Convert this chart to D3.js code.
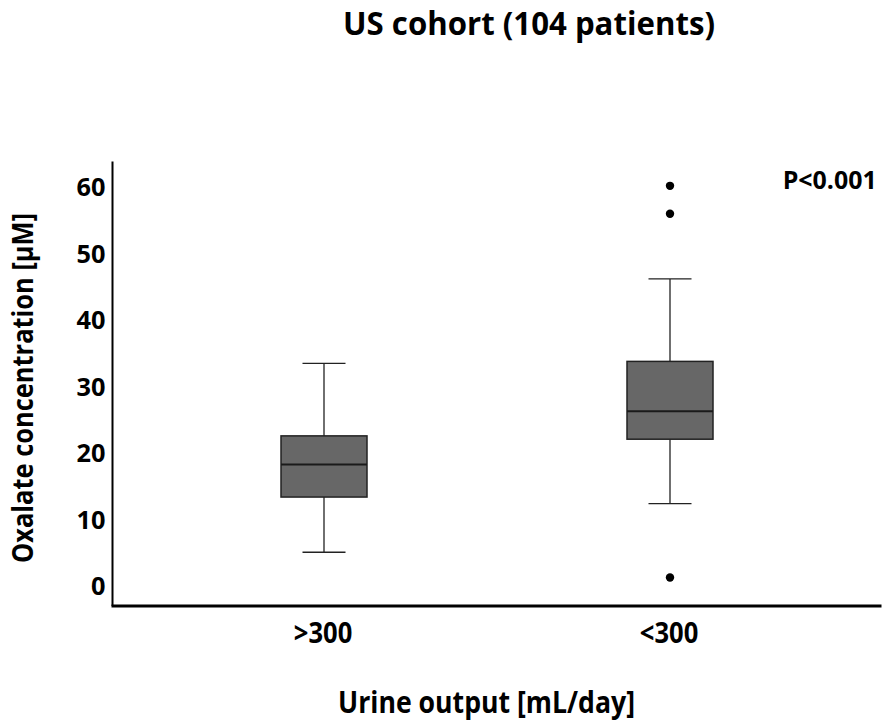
<!DOCTYPE html>
<html>
<head>
<meta charset="utf-8">
<script src="https://cdn.jsdelivr.net/npm/d3@7"></script>
<style>
    body { margin: 0; background: #fff; }
    svg text { font-family: "Open Sans", Lato, sans-serif; font-weight: bold; fill: #000; }
</style>
</head>
<body>
<div id="chart"></div>
<script>
// Box plot values
const categories = [">300", "<300"];
const whiskerLow = [5.0, 12.3];
const q1 = [13.3, 22.0];
const median = [18.2, 26.2];
const q3 = [22.5, 33.7];
const whiskerHigh = [33.4, 46.1];
const outliers = [[], [60.1, 55.9, 1.2]];
const yTicks = [0, 10, 20, 30, 40, 50, 60];

const width = 883;
const height = 720;
const CAP = 0.714; // Open Sans cap height / em

const svg = d3.select('#chart')
    .append('svg')
    .attr('width', width)
    .attr('height', height);

// size a text by its cap height, then squeeze it sideways to the wanted width
// (the original font is narrower than Open Sans)
function fitText(sel, capHeight, wanted) {
    const size = capHeight / CAP;
    sel.attr("font-size", size);
    const w = sel.node().getComputedTextLength();
    return { size: size, sx: wanted / w };
}

function placeText(text, x, y, capHeight, wanted, rot) {
    const t = svg.append("text")
        .attr("text-anchor", "middle")
        .text(text);
    const f = fitText(t, capHeight, wanted);
    t.attr("transform", `translate(${x},${y}) rotate(${rot || 0}) scale(${f.sx},1)`);
    return t;
}

// Scales
const y = d3.scaleLinear()
    .domain([0, 60])
    .range([585.5, 186.5]);

const x = d3.scalePoint()
    .domain(categories)
    .range([324, 670]);

const boxWidth = 86;
const capWidth = 43;

const boxes = categories.map((c, i) => ({
    cat: c,
    lo: whiskerLow[i],
    q1: q1[i],
    med: median[i],
    q3: q3[i],
    hi: whiskerHigh[i],
    out: outliers[i]
}));

// Axes
const axisLeftX = 112.5;
const axisBottomY = 606;

// tick font: cap height 18, "60" about 29 wide
const probe = svg.append("text").text("60");
const tickFit = fitText(probe, 18, 29);
probe.remove();

svg.append("g")
    .attr("transform", `translate(${axisLeftX},0)`)
    .call(d3.axisLeft(y).tickValues(yTicks).tickSize(0).tickPadding(0))
    .call(g => g.select(".domain").remove())
    .selectAll("text")
    .attr("x", 0)
    .attr("font-size", tickFit.size)
    .attr("font-family", "'Open Sans', sans-serif")
    .attr("font-weight", "bold")
    .attr("dy", "0.36em")
    .attr("transform", `translate(-7,0) scale(${tickFit.sx},1)`);

svg.append("line")
    .attr("x1", axisLeftX).attr("x2", axisLeftX)
    .attr("y1", 161.5).attr("y2", axisBottomY)
    .attr("stroke", "#000")
    .attr("stroke-width", 2);

svg.append("line")
    .attr("x1", axisLeftX - 1).attr("x2", 881.5)
    .attr("y1", axisBottomY).attr("y2", axisBottomY)
    .attr("stroke", "#000")
    .attr("stroke-width", 3);

// category labels
categories.forEach(c => placeText(c, x(c) - 1, 642.5, 20, 58.5));

// Boxes
const g = svg.selectAll(".box")
    .data(boxes)
    .join("g")
    .attr("class", "box");

// whisker stems
g.append("line")
    .attr("x1", d => x(d.cat)).attr("x2", d => x(d.cat))
    .attr("y1", d => y(d.hi)).attr("y2", d => y(d.q3))
    .attr("stroke", "#222").attr("stroke-width", 1.3);
g.append("line")
    .attr("x1", d => x(d.cat)).attr("x2", d => x(d.cat))
    .attr("y1", d => y(d.q1)).attr("y2", d => y(d.lo))
    .attr("stroke", "#222").attr("stroke-width", 1.3);

// caps
g.append("line")
    .attr("x1", d => x(d.cat) - capWidth / 2).attr("x2", d => x(d.cat) + capWidth / 2)
    .attr("y1", d => y(d.hi)).attr("y2", d => y(d.hi))
    .attr("stroke", "#222").attr("stroke-width", 1.3);
g.append("line")
    .attr("x1", d => x(d.cat) - capWidth / 2).attr("x2", d => x(d.cat) + capWidth / 2)
    .attr("y1", d => y(d.lo)).attr("y2", d => y(d.lo))
    .attr("stroke", "#222").attr("stroke-width", 1.3);

// box
g.append("rect")
    .attr("x", d => x(d.cat) - boxWidth / 2)
    .attr("width", boxWidth)
    .attr("y", d => y(d.q3))
    .attr("height", d => y(d.q1) - y(d.q3))
    .attr("fill", "#676767")
    .attr("stroke", "#222")
    .attr("stroke-width", 1.5);

// median
g.append("line")
    .attr("x1", d => x(d.cat) - boxWidth / 2).attr("x2", d => x(d.cat) + boxWidth / 2)
    .attr("y1", d => y(d.med)).attr("y2", d => y(d.med))
    .attr("stroke", "#1a1a1a").attr("stroke-width", 2);

// outliers
g.selectAll(".outlier")
    .data(d => d.out.map(v => ({ cat: d.cat, v: v })))
    .join("circle")
    .attr("class", "outlier")
    .attr("cx", d => x(d.cat))
    .attr("cy", d => y(d.v))
    .attr("r", 4.2)
    .attr("fill", "#000");

// Texts
placeText("US cohort (104 patients)", 529, 35, 23.5, 372);
placeText("P<0.001", 829.7, 189, 17.6, 94);
placeText("Urine output [mL/day]", 486.5, 712.5, 21.5, 297);
placeText("Oxalate concentration [μM]", 32.5, 388, 21, 350, -90);
</script>
</body>
</html>
